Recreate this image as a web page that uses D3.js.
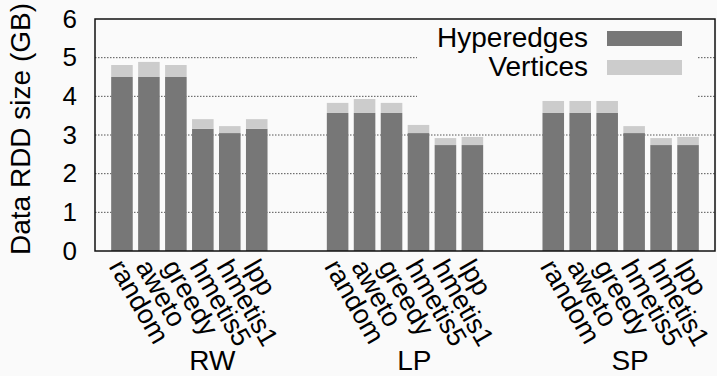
<!DOCTYPE html>
<html>
<head>
<meta charset="utf-8">
<script src="https://cdn.jsdelivr.net/npm/d3@7"></script>
<style>
  body { margin: 0; background: #fafafa; }
  svg text { font-family: Arial, "Liberation Sans", Helvetica, sans-serif; fill: #000; }
</style>
</head>
<body>
<div id="chart"></div>
<script>
// data
var groups = ["RW", "LP", "SP"];
var methods = ["random", "aweto", "greedy", "hmetis5", "hmetis1", "lpp"];
var hyperedges = [
  [4.50, 4.50, 4.50, 3.16, 3.05, 3.16],
  [3.57, 3.57, 3.57, 3.05, 2.74, 2.74],
  [3.57, 3.57, 3.57, 3.05, 2.74, 2.74]
];
var vertices = [
  [0.31, 0.39, 0.31, 0.25, 0.18, 0.25],
  [0.26, 0.36, 0.26, 0.21, 0.18, 0.21],
  [0.31, 0.31, 0.31, 0.18, 0.18, 0.21]
];
var yTicks = [0, 1, 2, 3, 4, 5, 6];
var seriesNames = ["Hyperedges", "Vertices"];
var seriesColors = ["#777777", "#cccccc"];

var W = 717, H = 376;
var FONT = "Arial, 'Liberation Sans', Helvetica, sans-serif";
var svg = d3.select("#chart").append("svg")
    .attr("width", W)
    .attr("height", H);

var x = d3.scaleLinear().domain([-1, 22]).range([95, 715]);
var y = d3.scaleLinear().domain([0, 6]).range([251, 19]);
var barW = x(0.8) - x(0);
var fs = 28;

// flat rows
var rows = [];
groups.forEach(function (g, gi) {
  methods.forEach(function (m, mi) {
    rows.push({ g: g, m: m, pos: gi * 8 + mi, h: hyperedges[gi][mi], v: vertices[gi][mi] });
  });
});

// grid lines
svg.append("g")
  .selectAll("line")
  .data(yTicks.slice(1, -1))
  .enter().append("line")
  .attr("x1", x(-1)).attr("x2", x(22))
  .attr("y1", function (d) { return y(d); })
  .attr("y2", function (d) { return y(d); })
  .attr("stroke", "#555")
  .attr("stroke-width", 1)
  .attr("stroke-dasharray", "1.5,1.5");

// key background
svg.append("rect")
  .attr("x", 417).attr("y", 21)
  .attr("width", 281).attr("height", 81)
  .attr("fill", "#fafafa");

// bars
var bars = svg.append("g");
bars.selectAll(".hyp")
  .data(rows)
  .enter().append("rect")
  .attr("x", function (d) { return x(d.pos) - barW / 2; })
  .attr("y", function (d) { return y(d.h); })
  .attr("width", barW)
  .attr("height", function (d) { return y(0) - y(d.h); })
  .attr("fill", seriesColors[0]);
bars.selectAll(".ver")
  .data(rows)
  .enter().append("rect")
  .attr("x", function (d) { return x(d.pos) - barW / 2; })
  .attr("y", function (d) { return y(d.h + d.v); })
  .attr("width", barW)
  .attr("height", function (d) { return y(d.h) - y(d.h + d.v); })
  .attr("fill", seriesColors[1]);

// frame
svg.append("rect")
  .attr("x", x(-1)).attr("y", y(6))
  .attr("width", x(22) - x(-1)).attr("height", y(0) - y(6))
  .attr("fill", "none")
  .attr("stroke", "#111")
  .attr("stroke-width", 1.5);

// y axis labels
var yAxis = d3.axisLeft(y).tickValues(yTicks).tickFormat(d3.format("d")).tickSize(0).tickPadding(18);
var ya = svg.append("g").attr("transform", "translate(" + x(-1) + ",0)").call(yAxis);
ya.select(".domain").remove();
ya.attr("font-family", FONT).attr("font-size", fs - 2);
ya.selectAll("text").attr("fill", "#000");

svg.append("text")
  .attr("transform", "translate(30,129) rotate(-90)")
  .attr("text-anchor", "middle")
  .attr("font-family", FONT)
  .attr("font-size", 28)
  .text("Data RDD size (GB)");

// method labels, rotated
svg.append("g").selectAll("text")
  .data(rows)
  .enter().append("text")
  .attr("transform", function (d) { return "translate(" + (x(d.pos) - 6) + ",262) rotate(60)"; })
  .attr("dominant-baseline", "central")
  .attr("font-family", FONT)
  .attr("font-size", 27)
  .text(function (d) { return d.m; });

// group labels
var groupOffset = [0.85, 0.35, 0.35];
svg.append("g").selectAll("text")
  .data(groups)
  .enter().append("text")
  .attr("x", function (d, i) { return x(i * 8 + 2.5 + groupOffset[i]); })
  .attr("y", 370)
  .attr("text-anchor", "middle")
  .attr("font-family", FONT)
  .attr("font-size", fs)
  .text(function (d) { return d; });

// legend
var key = svg.append("g");
seriesNames.forEach(function (s, i) {
  key.append("text")
    .attr("x", 588).attr("y", 47 + i * 29)
    .attr("text-anchor", "end")
    .attr("font-family", FONT)
    .attr("font-size", fs)
    .text(s);
  key.append("rect")
    .attr("x", 607).attr("y", 31 + i * 29)
    .attr("width", 75).attr("height", 15)
    .attr("fill", seriesColors[i]);
});
</script>
</body>
</html>
